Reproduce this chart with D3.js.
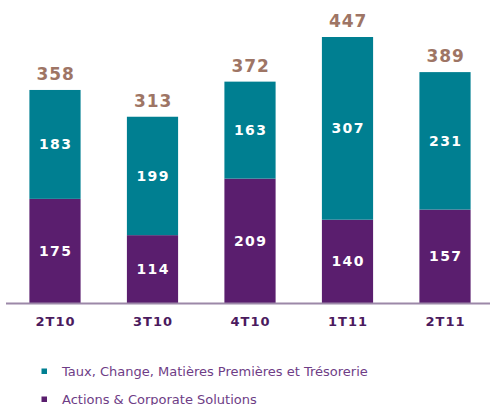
<!DOCTYPE html>
<html><head><meta charset="utf-8">
<script src="https://cdn.jsdelivr.net/npm/d3@7"></script>
<style>body{margin:0;background:#fff;}svg{display:block;}</style>
</head><body><svg id="c" width="490" height="405"></svg>
<script>
const categories = ["2T10","3T10","4T10","1T11","2T11"];
const actions = [175,114,209,140,157];
const taux = [183,199,163,307,231];
const totals = [358,313,372,447,389];
const seriesNames = ["Taux, Change, Matières Premières et Trésorerie","Actions & Corporate Solutions"];
const colors = {taux:"#007f91", actions:"#5a1e6e"};

const svg = d3.select("#c");
const baseY = 303;
const x = d3.scaleBand().domain(categories).range([6, 494]).paddingInner(0.475).paddingOuter(0.24);
const y = d3.scaleLinear().domain([0, 447]).range([baseY, 37]);

const g = svg.append("g");
categories.forEach((c,i)=>{
  const bx = x(c), bw = x.bandwidth();
  g.append("rect").attr("x",bx).attr("width",bw).attr("y",y(actions[i])).attr("height",baseY-y(actions[i])).attr("fill",colors.actions);
  g.append("rect").attr("x",bx).attr("width",bw).attr("y",y(actions[i]+taux[i])).attr("height",y(actions[i])-y(actions[i]+taux[i])).attr("fill",colors.taux);
  const cx = bx+bw/2 + 0.7;
  const lab = (yy, v) => g.append("text").attr("x",cx).attr("y",yy).attr("dy","0.36em").attr("text-anchor","middle")
    .attr("fill","#fff").attr("font-family","DejaVu Sans").attr("font-weight","bold").attr("font-size",14)
    .attr("letter-spacing",1.4).text(v);
  lab((y(actions[i])+baseY)/2, actions[i]);
  lab((y(actions[i])+y(actions[i]+taux[i]))/2, taux[i]);
  g.append("text").attr("x",cx).attr("y",y(totals[i])-10).attr("text-anchor","middle")
    .attr("fill","#9e7565").attr("font-family","DejaVu Sans").attr("font-weight","bold").attr("font-size",17)
    .attr("letter-spacing",1).text(totals[i]);
});

const axis = svg.append("g").attr("transform",`translate(0,${baseY})`).call(d3.axisBottom(x).tickSize(0).tickPadding(14));
axis.select(".domain").attr("stroke","#9c88a8").attr("stroke-width",2).attr("d","M6,0.5H490");
axis.selectAll("text").attr("fill","#4b1a5e").attr("font-family","DejaVu Sans").attr("font-weight","bold")
  .attr("font-size",13).attr("letter-spacing",1).attr("dx",0.5);

const leg = svg.append("g");
[["taux",0],["actions",1]].forEach(([k,i])=>{
  const ly = 371 + i*28;
  leg.append("rect").attr("x",41.5).attr("y",ly-2.5).attr("width",5.5).attr("height",5.5).attr("fill",colors[k]);
  leg.append("text").attr("x",62).attr("y",ly).attr("dy","0.36em").attr("fill","#6e3d86")
    .attr("font-family","DejaVu Sans").attr("font-size",13).text(seriesNames[i]);
});
</script></body></html>
